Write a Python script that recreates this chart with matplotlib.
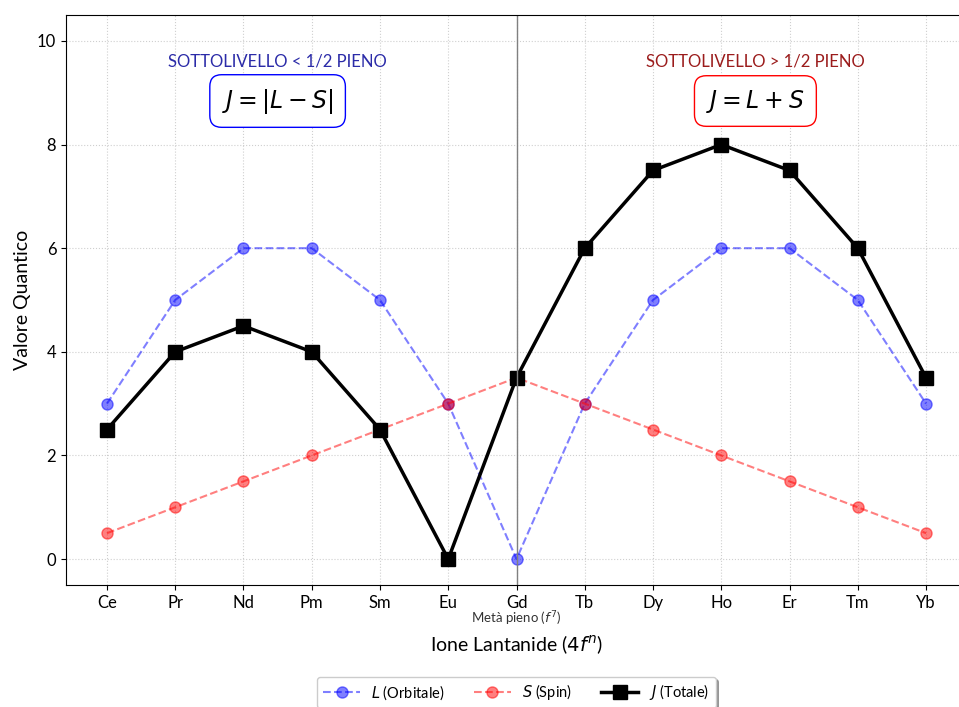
import matplotlib.pyplot as plt

plt.rcParams['font.family'] = ['Lato', 'DejaVu Sans']
plt.rcParams['mathtext.fontset'] = 'dejavusans'

# lanthanide ions and quantum numbers
ions = ['Ce', 'Pr', 'Nd', 'Pm', 'Sm', 'Eu', 'Gd', 'Tb', 'Dy', 'Ho', 'Er', 'Tm', 'Yb']
L_vals = [3, 5, 6, 6, 5, 3, 0, 3, 5, 6, 6, 5, 3]
S_vals = [0.5, 1, 1.5, 2, 2.5, 3, 3.5, 3, 2.5, 2, 1.5, 1, 0.5]
J_vals = [2.5, 4, 4.5, 4, 2.5, 0, 3.5, 6, 7.5, 8, 7.5, 6, 3.5]

x = list(range(len(ions)))

fig = plt.figure(figsize=(9.59, 7.07), dpi=100)
ax = fig.add_axes([66 / 959, 122 / 707, 901 / 959, 570 / 707])

ax.plot(x, L_vals, 'o--', color='blue', alpha=0.5, markersize=8, linewidth=1.5,
        label='$L$ (Orbitale)')
ax.plot(x, S_vals, 'o--', color='red', alpha=0.5, markersize=8, linewidth=1.5,
        label='$S$ (Spin)')
ax.plot(x, J_vals, 's-', color='black', markersize=10, linewidth=2.5,
        label='$J$ (Totale)')

ax.axvline(6, color='gray', linewidth=1)

ax.text(2.5, 9.6, 'SOTTOLIVELLO < 1/2 PIENO', ha='center', va='center',
        fontsize=12, color='#2b2ba8')
ax.text(2.5, 8.84, '$J = |L - S|$', ha='center', va='center', fontsize=17,
        bbox=dict(boxstyle='round,pad=0.5', facecolor='white', edgecolor='blue'))
ax.text(9.5, 9.6, 'SOTTOLIVELLO > 1/2 PIENO', ha='center', va='center',
        fontsize=12, color='#9b1c1c')
ax.text(9.5, 8.84, '$J = L + S$', ha='center', va='center', fontsize=17,
        bbox=dict(boxstyle='round,pad=0.5', facecolor='white', edgecolor='red'))

ax.text(6, -1.16, 'Metà pieno ($f^7$)', ha='center', va='center', fontsize=9.5,
        color='#333333', clip_on=False)

ax.set_xticks(x)
ax.set_xticklabels(ions, fontsize=12)
ax.tick_params(axis='y', labelsize=12)
ax.set_xlim(-0.6, 12.6)
ax.set_ylim(-0.5, 10.5)
ax.set_xlabel('Ione Lantanide ($4f^n$)', fontsize=14, labelpad=16)
ax.set_ylabel('Valore Quantico', fontsize=14)
ax.grid(True, linestyle=':', alpha=0.6)

ax.legend(loc='upper center', bbox_to_anchor=(0.5, -0.148), ncol=3, shadow=True,
          fontsize=10.5, handlelength=2.5, columnspacing=2.0)

fig.savefig('out.png', dpi=100)
